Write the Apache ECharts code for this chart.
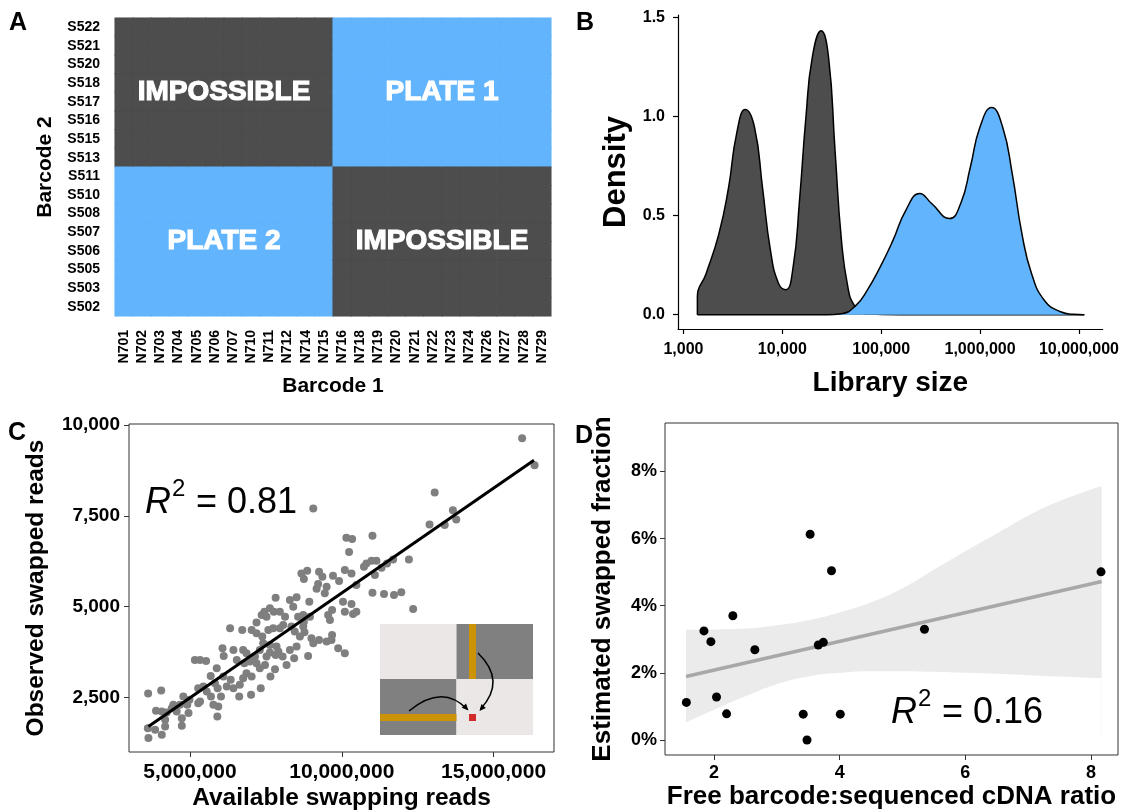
<!DOCTYPE html>
<html>
<head>
<meta charset="utf-8">
<title>Barcode swapping</title>
<script src="https://cdn.jsdelivr.net/npm/echarts@6.0.0/dist/echarts.min.js"></script>
<style>
  html, body { margin: 0; padding: 0; background: #fff; }
  #chart { width: 1122px; height: 812px; }
</style>
</head>
<body>
<div id="chart"></div>
<script>
// ---------- A: barcode combinations ----------
const barcode1 = ['N701', 'N702', 'N703', 'N704', 'N705', 'N706', 'N707', 'N710', 'N711', 'N712', 'N714', 'N715',
  'N716', 'N718', 'N719', 'N720', 'N721', 'N722', 'N723', 'N724', 'N726', 'N727', 'N728', 'N729'];
const barcode1Plate = [2, 2, 2, 2, 2, 2, 2, 2, 2, 2, 2, 2, 1, 1, 1, 1, 1, 1, 1, 1, 1, 1, 1, 1];
const barcode2 = ['S522', 'S521', 'S520', 'S518', 'S517', 'S516', 'S515', 'S513',
  'S511', 'S510', 'S508', 'S507', 'S506', 'S505', 'S503', 'S502'];
const barcode2Plate = [1, 1, 1, 1, 1, 1, 1, 1, 2, 2, 2, 2, 2, 2, 2, 2];

// ---------- B: library size densities (x = log10 library size) ----------
const lowLogSize = [3.141, 3.141, 3.229, 3.359, 3.457, 3.538, 3.626, 3.718, 3.799, 3.880, 3.962, 4.034, 4.109,
  4.174, 4.239, 4.304, 4.393, 4.467, 4.533, 4.598, 4.663, 4.728, 4.83, 5.2, 7.054];
const lowDensity = [0, 0.092, 0.207, 0.409, 0.644, 0.914, 1.035, 0.947, 0.644, 0.325, 0.157, 0.126, 0.24,
  0.577, 0.998, 1.301, 1.432, 1.301, 0.83, 0.375, 0.139, 0.047, 0.005, 0, 0];
const highLogSize = [3.141, 4.45, 4.598, 4.745, 4.858, 4.989, 5.119, 5.249, 5.39, 5.51, 5.69, 5.804, 5.902,
  5.999, 6.117, 6.228, 6.325, 6.423, 6.521, 6.651, 6.814, 6.945, 7.054];
const highDensity = [0, 0, 0.005, 0.047, 0.123, 0.24, 0.375, 0.527, 0.611, 0.561, 0.485, 0.561, 0.745,
  0.947, 1.045, 0.947, 0.712, 0.409, 0.207, 0.072, 0.015, 0.002, 0];
const libSizeTicks = [3, 4, 5, 6, 7];
const densityTicks = [0, 0.5, 1, 1.5];

// ---------- C: observed vs available swapped reads ----------
const availableReadsM = [15.94, 16.35, 13.06, 13.66, 13.77, 13.39, 12.89, 9.06, 10.15, 10.34, 11.01, 10.24, 12.21,
  11.69, 11.49, 11.31, 11.14, 10.98, 10.81, 10.73, 11.09, 8.67, 8.86, 9.25, 9.36, 9.71, 9.91, 10.10, 10.32, 10.48,
  8.75, 9.22, 9.50, 9.44, 11.01, 11.39, 11.72, 11.96, 12.35, 7.82, 8.29, 8.51, 8.93, 8.40, 10.04, 10.32, 10.10,
  10.37, 10.48, 9.68, 9.55, 9.61, 7.45, 7.63, 7.76, 7.36, 7.52, 7.96, 8.13, 8.56, 8.73, 8.95, 7.19, 8.07, 8.34,
  8.73, 8.45, 8.77, 8.62, 9.00, 9.25, 9.50, 9.68, 9.66, 9.06, 9.88, 10.10, 8.89, 6.32, 6.72, 7.03, 7.19, 7.38,
  7.58, 7.74, 7.96, 7.41, 7.63, 7.85, 7.91, 8.05, 8.29, 8.43, 8.18, 7.63, 7.82, 7.52, 7.30, 7.14, 7.19, 7.30,
  7.47, 7.80, 7.65, 6.75, 6.86, 6.43, 6.07, 6.11, 6.54, 6.79, 6.97, 6.86, 7.03, 6.75, 6.64, 6.34, 6.43, 6.10,
  6.21, 5.88, 5.68, 5.82, 5.91, 6.02, 5.69, 5.55, 5.44, 5.27, 5.16, 5.33, 5.53, 5.27, 4.98, 4.78, 4.91, 4.67,
  4.56, 4.40, 4.23, 4.07, 3.88, 3.62, 4.05, 4.18, 4.73, 4.95, 4.73, 5.90, 5.93, 3.63, 3.61, 3.85, 4.07, 4.18,
  6.62, 7.01, 7.33, 9.17, 8.75, 8.51, 4.45, 5.77, 5.33];
const observedReads = [9634, 8892, 8141, 7656, 7400, 7244, 7262, 7702, 6896, 6859, 6951, 6502, 6301,
  6301, 6191, 6072, 6264, 6264, 6191, 6099, 5870, 5916, 5989, 5962, 5824, 5852, 5705, 6007, 5916, 5595,
  5760, 5623, 5550, 5366, 5385, 5348, 5321, 5394, 4936, 5247, 5183, 5257, 5138, 5000, 5138, 5073, 4863,
  4799, 4863, 4909, 4771, 4634, 4863, 4954, 4863, 4771, 4725, 4863, 4725, 4725, 4771, 4725, 4561, 4496, 4451,
  4451, 4313, 4295, 4176, 4130, 4084, 4038, 4222, 4084, 3993, 3855, 3718, 3645, 4405, 4359, 4359, 4268, 4176,
  4359, 4405, 4405, 3993, 3947, 3901, 3764, 3626, 3810, 3581, 3397, 3736, 3672, 3626, 3810, 3626, 3443, 3306,
  3397, 3278, 3077, 3810, 3718, 3810, 3855, 3645, 3535, 3443, 3489, 3169, 3077, 3031, 2848, 2985, 2756, 3077,
  2802, 3306, 3095, 2894, 2756, 2527, 2527, 2665, 2802, 2756, 3535, 3535, 3507, 2344, 2436, 2527, 2299, 2299,
  2115, 2207, 2088, 2115, 2134, 2610, 2690, 1886, 1722, 2070, 1932, 1978, 2253, 1383, 1657, 1612, 1474, 1703,
  2527, 2573, 2756, 5495, 4588, 3901, 2300, 2300, 2390];
const readsFitX = [3.63e6, 16.33e6];
const readsFitY = [1703, 9030];
const availableTicks = [5e6, 10e6, 15e6];
const observedTicks = [2500, 5000, 7500, 10000];

// ---------- D: swapped fraction vs free barcode ratio ----------
const freeBarcodeRatio = [1.56, 1.84, 1.95, 2.04, 2.20, 2.30, 2.65, 3.42, 3.48, 3.53, 3.66, 3.74, 3.87, 4.01, 5.35, 8.16];
const swappedPct = [1.12, 3.25, 2.93, 1.28, 0.78, 3.70, 2.69, 0.77, 0.0, 6.13, 2.83, 2.91, 5.04, 0.77, 3.30, 5.01];
const bandX = [1.555, 2.0, 2.5, 3.0, 3.5, 4.0, 4.5, 5.0, 5.5, 6.0, 6.5, 7.0, 7.5, 8.17];
const bandLower = [0.52, 0.90, 1.30, 1.66, 1.89, 2.00, 2.05, 2.05, 2.03, 2.00, 1.97, 1.93, 1.89, 1.84];
const bandUpper = [3.28, 3.29, 3.32, 3.42, 3.57, 3.80, 4.10, 4.52, 5.07, 5.62, 6.15, 6.68, 7.12, 7.57];
const ratioFitX = [1.555, 8.17];
const ratioFitY = [1.89, 4.72];
const ratioTicks = [2, 4, 6, 8];
const pctTicks = [0, 2, 4, 6, 8];

// ---------- styling ----------
const FONT = '"Liberation Sans", Arial, Helvetica, sans-serif';
const DARK = '#4d4d4d';
const BLUE = '#62b5fc';

const gA = { left: 115, top: 18, width: 436, height: 298 };
const gB = { left: 678, top: 15, width: 439, height: 314 };
const gC = { left: 129, top: 424, width: 425, height: 328 };
const gD = { left: 665, top: 423, width: 453, height: 332 };

function lbl(size, extra) {
  return Object.assign({ color: '#000', fontSize: size, fontWeight: 'bold', fontFamily: FONT }, extra || {});
}
function nameStyle(size) {
  return { color: '#000', fontSize: size, fontWeight: 'bold', fontFamily: FONT };
}
function txt(x, y, text, size, extra) {
  return {
    type: 'text', x: x, y: y, z: 100,
    style: Object.assign({
      text: text, fill: '#000', fontSize: size, fontFamily: FONT,
      align: 'left', verticalAlign: 'middle'
    }, extra || {})
  };
}
const withCommas = v => Math.round(v).toLocaleString('en-US');

// heatmap cells
const heatData = [];
barcode1.forEach((b1, i) => {
  barcode2.forEach((b2, j) => {
    const possible = barcode1Plate[i] === barcode2Plate[j];
    const c = possible ? BLUE : DARK;
    heatData.push({ value: [i, j, possible ? 1 : 0], itemStyle: { color: c, borderColor: c, borderWidth: 0.5 } });
  });
});

const chart = echarts.init(document.getElementById('chart'));

const option = {
  animation: false,
  backgroundColor: '#fff',
  textStyle: { fontFamily: FONT },
  grid: [
    gA, gB,
    Object.assign({ show: true, borderColor: '#333', borderWidth: 1 }, gC),
    Object.assign({ show: true, borderColor: '#333', borderWidth: 1 }, gD)
  ],
  xAxis: [
    {
      gridIndex: 0, type: 'category', data: barcode1,
      axisLine: { show: false }, axisTick: { show: false }, splitLine: { show: false },
      axisLabel: lbl(14, { rotate: 90, interval: 0, margin: 14 }),
      name: 'Barcode 1', nameLocation: 'middle', nameGap: 60, nameTextStyle: nameStyle(21)
    },
    {
      gridIndex: 1, type: 'value', min: 2.945, max: 7.24,
      axisLine: { show: true, onZero: false, lineStyle: { color: '#000', width: 1.2 } },
      axisTick: { show: true, customValues: libSizeTicks, length: 5, lineStyle: { color: '#000', width: 1.2 } },
      axisLabel: lbl(16, { customValues: libSizeTicks, margin: 13, formatter: v => withCommas(Math.pow(10, v)) }),
      splitLine: { show: false },
      name: 'Library size', nameLocation: 'middle', nameGap: 40, nameTextStyle: nameStyle(28)
    },
    {
      gridIndex: 2, type: 'value', min: 2.99e6, max: 16.99e6,
      axisLine: { show: false, onZero: false },
      axisTick: { show: true, customValues: availableTicks, length: 5, lineStyle: { color: '#333' } },
      axisLabel: lbl(21, { customValues: availableTicks, margin: 10, formatter: withCommas }),
      splitLine: { show: false },
      name: 'Available swapping reads', nameLocation: 'middle', nameGap: 34, nameTextStyle: nameStyle(24.5)
    },
    {
      gridIndex: 3, type: 'value', min: 1.22, max: 8.43,
      axisLine: { show: false, onZero: false },
      axisTick: { show: true, customValues: ratioTicks, length: 5, lineStyle: { color: '#333' } },
      axisLabel: lbl(18, { customValues: ratioTicks, margin: 9 }),
      splitLine: { show: false },
      name: 'Free barcode:sequenced cDNA ratio', nameLocation: 'middle', nameGap: 29, nameTextStyle: nameStyle(26)
    }
  ],
  yAxis: [
    {
      gridIndex: 0, type: 'category', data: barcode2, inverse: true,
      axisLine: { show: false }, axisTick: { show: false }, splitLine: { show: false },
      axisLabel: lbl(14, { interval: 0, margin: 15 }),
      name: 'Barcode 2', nameLocation: 'middle', nameGap: 59, nameRotate: 90, nameTextStyle: nameStyle(21)
    },
    {
      gridIndex: 1, type: 'value', min: -0.072, max: 1.512,
      axisLine: { show: true, onZero: false, lineStyle: { color: '#000', width: 1.2 } },
      axisTick: { show: true, customValues: densityTicks, length: 5, lineStyle: { color: '#000', width: 1.2 } },
      axisLabel: lbl(16, { customValues: densityTicks, margin: 13, formatter: v => v.toFixed(1) }),
      splitLine: { show: false },
      name: 'Density', nameLocation: 'middle', nameGap: 46, nameRotate: 90, nameTextStyle: nameStyle(31)
    },
    {
      gridIndex: 2, type: 'value', min: 1000, max: 10027,
      axisLine: { show: false, onZero: false },
      axisTick: { show: true, customValues: observedTicks, length: 5, lineStyle: { color: '#333' } },
      axisLabel: lbl(19, { customValues: observedTicks, margin: 9, formatter: withCommas }),
      splitLine: { show: false },
      name: 'Observed swapped reads', nameLocation: 'middle', nameGap: 80, nameRotate: 90, nameTextStyle: nameStyle(24.5)
    },
    {
      gridIndex: 3, type: 'value', min: -0.447, max: 9.443,
      axisLine: { show: false, onZero: false },
      axisTick: { show: true, customValues: pctTicks, length: 5, lineStyle: { color: '#333' } },
      axisLabel: lbl(18, { customValues: pctTicks, margin: 8, formatter: v => v + '%' }),
      splitLine: { show: false },
      name: 'Estimated swapped fraction', nameLocation: 'middle', nameGap: 49, nameRotate: 90, nameTextStyle: nameStyle(26)
    }
  ],
  series: [
    // A
    { type: 'heatmap', xAxisIndex: 0, yAxisIndex: 0, data: heatData, emphasis: { disabled: true } },
    // B
    {
      type: 'line', xAxisIndex: 1, yAxisIndex: 1, smooth: 0.5, symbol: 'none', z: 2,
      data: lowLogSize.map((x, i) => [x, lowDensity[i]]),
      lineStyle: { color: '#000', width: 1.5 }, areaStyle: { color: DARK, opacity: 1 }
    },
    {
      type: 'line', xAxisIndex: 1, yAxisIndex: 1, smooth: 0.5, symbol: 'none', z: 3,
      data: highLogSize.map((x, i) => [x, highDensity[i]]),
      lineStyle: { color: '#000', width: 1.5 }, areaStyle: { color: BLUE, opacity: 1 }
    },
    // C
    {
      type: 'scatter', xAxisIndex: 2, yAxisIndex: 2, symbolSize: 8, z: 2,
      data: availableReadsM.map((x, i) => [x * 1e6, observedReads[i]]),
      itemStyle: { color: '#7f7f7f', opacity: 1 }
    },
    {
      type: 'line', xAxisIndex: 2, yAxisIndex: 2, symbol: 'none', z: 3,
      data: readsFitX.map((x, i) => [x, readsFitY[i]]),
      lineStyle: { color: '#000', width: 3 }
    },
    // D: confidence band = upper area minus a white lower area (both fill down to 0)
    {
      type: 'line', xAxisIndex: 3, yAxisIndex: 3, smooth: 0.5, symbol: 'none', z: 1,
      data: bandX.map((x, i) => [x, bandUpper[i]]),
      lineStyle: { opacity: 0 }, areaStyle: { color: '#ebebeb', opacity: 1 }
    },
    {
      type: 'line', xAxisIndex: 3, yAxisIndex: 3, smooth: 0.5, symbol: 'none', z: 1,
      data: bandX.map((x, i) => [x, bandLower[i]]),
      lineStyle: { opacity: 0 }, areaStyle: { color: '#fff', opacity: 1 }
    },
    {
      type: 'line', xAxisIndex: 3, yAxisIndex: 3, symbol: 'none', z: 2,
      data: ratioFitX.map((x, i) => [x, ratioFitY[i]]),
      lineStyle: { color: '#a8a8a8', width: 3.5 }
    },
    {
      type: 'scatter', xAxisIndex: 3, yAxisIndex: 3, symbolSize: 9, z: 3,
      data: freeBarcodeRatio.map((x, i) => [x, swappedPct[i]]),
      itemStyle: { color: '#000', opacity: 1 }
    }
  ],
  graphic: []
};

// quadrant labels for panel A
const qw = gA.width / 2, qh = gA.height / 2;
const quadText = (cx, cy, t) => txt(cx, cy, t, 28, {
  fill: '#fff', fontWeight: 'bold', align: 'center', stroke: '#fff', lineWidth: 1.2
});
option.graphic.push(
  quadText(gA.left + qw / 2, gA.top + qh / 2, 'IMPOSSIBLE'),
  quadText(gA.left + qw * 1.5, gA.top + qh / 2, 'PLATE 1'),
  quadText(gA.left + qw / 2, gA.top + qh * 1.5, 'PLATE 2'),
  quadText(gA.left + qw * 1.5, gA.top + qh * 1.5, 'IMPOSSIBLE')
);

// panel letters
option.graphic.push(
  txt(9, 23, 'A', 25, { fontWeight: 'bold' }),
  txt(576, 23, 'B', 25, { fontWeight: 'bold' }),
  txt(8, 433, 'C', 25, { fontWeight: 'bold' }),
  txt(575, 436, 'D', 25, { fontWeight: 'bold' })
);

// R^2 annotations
function rsq(x, y, value) {
  return [
    txt(x, y, 'R', 36, { fontStyle: 'italic' }),
    txt(x + 27, y - 14, '2', 24),
    txt(x + 51, y, '= ' + value, 36)
  ];
}
option.graphic.push(...rsq(145, 503, '0.81'), ...rsq(891, 713, '0.16'));

// inset sketch in panel C
const ins = { x: 380, y: 624, w: 153, h: 111, sx: 76.5, sy: 55 };
const rect = (x, y, w, h, fill) => ({ type: 'rect', z: 90, shape: { x: x, y: y, width: w, height: h }, style: { fill: fill } });
option.graphic.push(
  rect(ins.x, ins.y, ins.sx, ins.sy, '#ebe7e7'),
  rect(ins.x + ins.sx, ins.y, ins.w - ins.sx, ins.sy, '#808080'),
  rect(ins.x, ins.y + ins.sy, ins.sx, ins.h - ins.sy, '#808080'),
  rect(ins.x + ins.sx, ins.y + ins.sy, ins.w - ins.sx, ins.h - ins.sy, '#ebe7e7'),
  rect(469, ins.y, 7, ins.sy, '#cc9307'),
  rect(ins.x, 714, ins.sx, 7, '#cc9307'),
  rect(469, 714, 7, 7, '#d22b2b'),
  { type: 'bezierCurve', z: 95, shape: { x1: 409, y1: 711, x2: 467, y2: 709, cpx1: 442, cpy1: 683.4 },
    style: { stroke: '#000', lineWidth: 1.5, fill: null } },
  { type: 'polygon', z: 95, shape: { points: [[468.5, 710.5], [461.7, 707.8], [466, 703.6]] }, style: { fill: '#000' } },
  { type: 'bezierCurve', z: 95, shape: { x1: 478, y1: 653, x2: 480.5, y2: 709, cpx1: 506.7, cpy1: 681 },
    style: { stroke: '#000', lineWidth: 1.5, fill: null } },
  { type: 'polygon', z: 95, shape: { points: [[479.5, 711], [481.4, 704], [485.8, 708.1]] }, style: { fill: '#000' } }
);

chart.setOption(option);
window.addEventListener('resize', () => chart.resize());
</script>
</body>
</html>
